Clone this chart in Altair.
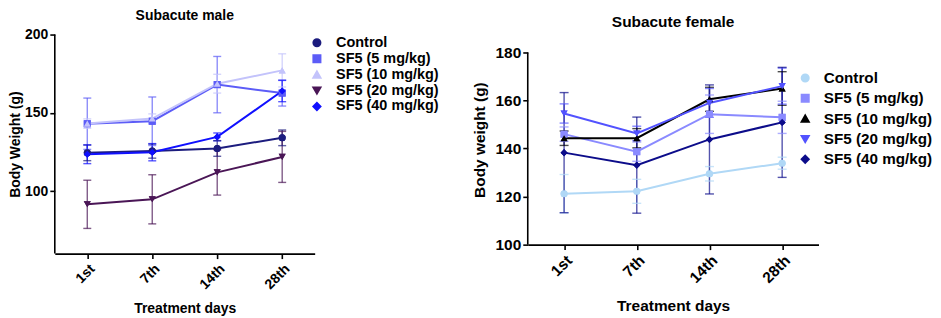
import altair as alt
import pandas as pd

days = ["1st", "7th", "14th", "28th"]
groups = ["Control", "SF5 (5 mg/kg)", "SF5 (10 mg/kg)", "SF5 (20 mg/kg)", "SF5 (40 mg/kg)"]
shapes = ["circle", "square", "triangle-up", "triangle-down", "diamond"]

# Subacute male: mean and SD
male_control = [124.4, 125.5, 127.2, 134.0]
male_sf5_5 = [143.0, 144.6, 168.0, 162.6]
male_sf5_10 = [143.1, 146.3, 168.6, 177.1]
male_sf5_20 = [91.5, 94.7, 111.9, 121.8]
male_sf5_40 = [123.5, 124.8, 134.6, 163.9]
male_control_sd = [5.0, 4.5, 5.0, 5.0]
male_sf5_5_sd = [16.4, 15.5, 18.0, 8.3]
male_sf5_10_sd = [3.0, 3.0, 6.0, 10.6]
male_sf5_20_sd = [15.4, 15.7, 14.5, 16.3]
male_sf5_40_sd = [6.0, 5.5, 2.5, 6.8]

# Subacute female: mean and SD
female_control = [121.2, 122.2, 129.5, 133.9]
female_sf5_5 = [146.0, 138.7, 154.3, 153.0]
female_sf5_10 = [144.3, 144.3, 160.5, 165.0]
female_sf5_20 = [154.6, 146.3, 159.0, 166.0]
female_sf5_40 = [138.3, 133.1, 143.8, 150.9]
female_control_sd = [8.0, 5.0, 3.0, 2.5]
female_sf5_5_sd = [3.0, 4.0, 8.0, 6.7]
female_sf5_10_sd = [3.0, 4.0, 5.0, 7.0]
female_sf5_20_sd = [4.0, 3.0, 6.0, 7.5]
female_sf5_40_sd = [25.0, 20.0, 22.7, 22.9]

male_colors = ["#1c1c7e", "#5c5cf7", "#c3c3fb", "#4a1656", "#1010ff"]
female_colors = ["#b0d8f6", "#8a8aff", "#000000", "#5252ff", "#0c0c8a"]

# y-axis extents: [axis bottom, axis top]
male_axis_range = [60, 200]
female_axis_range = [100, 180]


def build(means, sds):
    rows = []
    for g, m, s in zip(groups, means, sds):
        for d, v, e in zip(days, m, s):
            rows.append({"day": d, "group": g, "weight": v, "lo": v - e, "hi": v + e})
    return pd.DataFrame(rows)


male_df = build([male_control, male_sf5_5, male_sf5_10, male_sf5_20, male_sf5_40],
                [male_control_sd, male_sf5_5_sd, male_sf5_10_sd, male_sf5_20_sd, male_sf5_40_sd])
female_df = build([female_control, female_sf5_5, female_sf5_10, female_sf5_20, female_sf5_40],
                  [female_control_sd, female_sf5_5_sd, female_sf5_10_sd, female_sf5_20_sd, female_sf5_40_sd])

FONT = "Liberation Sans"


def panel(df, colors, title, ytitle, axis_range, ydomain, yvalues, w, h, fs, title_offset,
          legend_x, legend_y, row_pad, xtitle_pad, cap, ytitle_pad, legend_fs, label_off):
    xenc = alt.X("day:N", sort=days, scale=alt.Scale(type="point", padding=0.5),
                 axis=alt.Axis(title="Treatment days", labelAngle=-45, labelFontSize=fs,
                               labelFont=FONT, labelFontWeight="bold", titleFont=FONT,
                               titleFontSize=fs, titleFontWeight="bold", titlePadding=xtitle_pad,
                               domainColor="black", domainWidth=1.6, tickColor="black",
                               tickWidth=1.6, tickSize=5, labelColor="black", titleColor="black",
                               labelPadding=3))
    yscale = alt.Scale(domain=ydomain, nice=False, zero=False)
    yaxis = alt.Axis(title=ytitle, values=yvalues, labelFontSize=fs, labelFont=FONT,
                     labelFontWeight="bold", titleFont=FONT, titleFontSize=fs,
                     titleFontWeight="bold", domain=False,
                     tickColor="black", tickWidth=1.6, tickSize=5, labelColor="black",
                     titleColor="black", grid=False, titlePadding=ytitle_pad, labelPadding=2)
    cscale = alt.Scale(domain=groups, range=colors)
    sscale = alt.Scale(domain=groups, range=shapes)
    legend = alt.Legend(title=None, orient="none", legendX=legend_x, legendY=legend_y,
                        labelFont=FONT, labelFontSize=legend_fs, labelFontWeight="bold",
                        labelColor="black", rowPadding=row_pad, symbolSize=50,
                        labelOffset=label_off, padding=0, symbolStrokeWidth=2, labelLimit=300)
    color = alt.Color("group:N", scale=cscale, legend=legend)
    base = alt.Chart(df)
    points = base.mark_point(filled=True, size=50, opacity=1).encode(
        x=xenc, y=alt.Y("weight:Q", scale=yscale, axis=yaxis),
        color=color,
        shape=alt.Shape("group:N", scale=sscale, legend=legend))
    axis_df = pd.DataFrame({"lo": [axis_range[0]], "hi": [axis_range[1]]})
    axis_line = alt.Chart(axis_df).mark_rule(color="black", strokeWidth=1.6).encode(
        x=alt.value(0), y=alt.Y("lo:Q", scale=yscale, axis=yaxis), y2="hi:Q")
    rules = base.mark_rule(strokeWidth=1.4, opacity=0.7).encode(
        x=xenc, y=alt.Y("lo:Q", scale=yscale, axis=yaxis), y2="hi:Q", color=color)
    caps_lo = base.mark_tick(size=cap, thickness=1.4, opacity=0.7).encode(
        x=xenc, y=alt.Y("lo:Q", scale=yscale, axis=yaxis), color=color)
    caps_hi = base.mark_tick(size=cap, thickness=1.4, opacity=0.7).encode(
        x=xenc, y=alt.Y("hi:Q", scale=yscale, axis=yaxis), color=color)
    lines = base.mark_line(strokeWidth=2).encode(
        x=xenc, y=alt.Y("weight:Q", scale=yscale, axis=yaxis), color=color,
        detail="group:N")
    return alt.layer(points, axis_line, rules, caps_lo, caps_hi, lines, points).properties(
        width=w, height=h,
        title=alt.TitleParams(title, fontSize=fs, fontWeight="bold", font=FONT,
                              color="black", anchor="middle", offset=title_offset))


left = panel(male_df, male_colors, "Subacute male", "Body Weight (g)", male_axis_range,
             [60, 200], [100, 150, 200], 261, 220, 14, 5, 256, 1, 0, 10, 8, 2, 14.5, 12)
right = panel(female_df, female_colors, "Subacute female", "Body weight (g)", female_axis_range,
              [100, 187.46], [100, 120, 140, 160, 180], 292, 211, 15.5, 4, 271, 36, 4.4, 13, 9, 8,
              15.3, 11)

chart = alt.hconcat(left, right, spacing=33).resolve_scale(
    color="independent", shape="independent", x="independent", y="independent"
).properties(
    padding={"left": 0, "top": 0, "right": 0, "bottom": 0},
    background="white"
).configure_view(stroke=None)

chart.save("out.html", embed_options={"renderer": "svg", "actions": False})
